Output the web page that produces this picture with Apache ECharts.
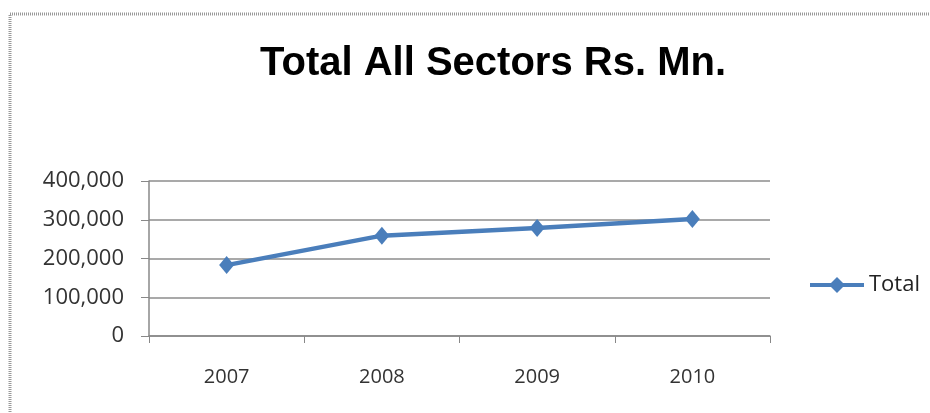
<!DOCTYPE html>
<html>
<head>
<meta charset="utf-8">
<script src="https://cdn.jsdelivr.net/npm/echarts@6/dist/echarts.min.js"></script>
<style>
  html, body { margin: 0; padding: 0; background: #fff; }
  #chart { width: 930px; height: 413px; }
</style>
</head>
<body>
<div id="chart"></div>
<script>
  // data
  var years = ['2007', '2008', '2009', '2010']
  var totals = [183000, 259000, 279000, 302000]
  var seriesName = 'Total'

  var chart = echarts.init(document.getElementById('chart'))
  var font = '"Open Sans", "Liberation Sans", sans-serif'
  var blue = '#4A7EBB'

  var option = {
    backgroundColor: '#fff',
    animation: false,
    title: {
      text: 'Total All Sectors Rs. Mn.',
      left: 488,
      top: 39,
      textAlign: 'center',
      textStyle: {
        fontFamily: '"Liberation Sans", sans-serif',
        fontWeight: 'bold',
        fontSize: 40,
        color: '#000'
      }
    },
    // frame of the original picture (only top and left edges are visible)
    graphic: [{
      type: 'rect',
      shape: { x: 10, y: 14, width: 940, height: 420 },
      style: { fill: 'none', stroke: '#999', lineWidth: 3, lineDash: [1, 1] },
      silent: true
    }],
    legend: {
      data: [seriesName],
      left: 808,
      top: 274,
      padding: 0,
      itemWidth: 54,
      itemHeight: 20,
      lineStyle: { width: 4 },
      textStyle: { fontFamily: font, fontSize: 22, color: '#222' }
    },
    grid: { left: 149, right: 160, top: 181, bottom: 77 },
    xAxis: {
      type: 'category',
      data: years,
      boundaryGap: true,
      axisLine: { lineStyle: { color: '#888', width: 1.5 } },
      axisTick: { show: true, length: 7, lineStyle: { color: '#888' } },
      axisLabel: { margin: 31, fontFamily: font, fontSize: 20, color: '#333' }
    },
    yAxis: {
      type: 'value',
      min: 0,
      max: 400000,
      interval: 100000,
      axisLine: { show: true, lineStyle: { color: '#888', width: 1.5 } },
      axisTick: { show: true, length: 8, lineStyle: { color: '#888' } },
      splitLine: { lineStyle: { color: '#8c8c8c', width: 1.5 } },
      axisLabel: {
        margin: 25,
        fontFamily: font,
        fontSize: 22,
        color: '#333',
        formatter: function (v) { return v.toLocaleString('en-US') }
      }
    },
    series: [{
      name: seriesName,
      type: 'line',
      data: totals,
      symbol: 'diamond',
      symbolSize: [15, 18],
      lineStyle: { color: blue, width: 4.5 },
      itemStyle: { color: blue }
    }]
  }
  chart.setOption(option)
</script>
</body>
</html>
